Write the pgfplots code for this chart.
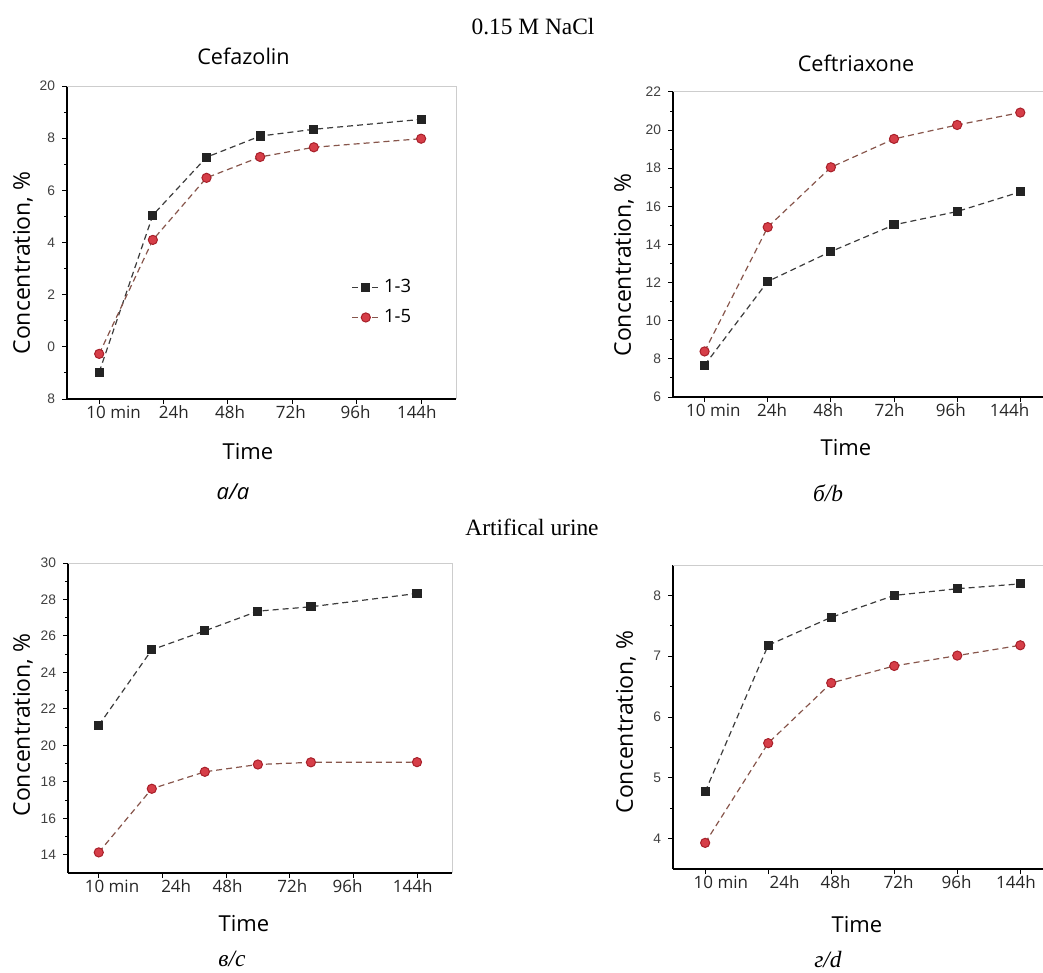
\documentclass[border=0pt]{standalone}
\usepackage{pgfplots}
\pgfplotsset{compat=1.18}
\usepackage{fontspec}
\setmainfont{Liberation Serif}
\newfontfamily\osans{Open Sans}
\newfontfamily\lsans{Liberation Sans}

\definecolor{sqfill}{RGB}{35,35,35}
\definecolor{cifill}{RGB}{214,62,72}
\definecolor{cidraw}{RGB}{168,32,42}
\definecolor{lnblack}{RGB}{60,60,60}
\definecolor{lnred}{RGB}{135,85,75}
\definecolor{framec}{RGB}{205,205,205}

\pgfplotsset{
  panel/.style={
    scale only axis,
    anchor=south west,
    axis lines*=left,
    axis line style={black, line width=0.6pt},
    tick align=outside,
    xtick pos=bottom, ytick pos=left,
    major tick length=2.5pt, minor tick length=1.5pt,
    every tick/.style={black, line width=0.5pt},
    /pgf/number format/assume math mode=true,
    yticklabel style={font=\lsans\fontsize{6.9}{8}\selectfont, text=black!75},
    xticklabels={,,,,,},
    extra x tick style={major tick length=0pt,
      xticklabel style={font=\osans\fontsize{8.5}{10}\selectfont, text=black!85}},
    clip=false,
  },
  s13/.style={lnblack, line width=0.6pt, dash pattern=on 3pt off 2pt,
    mark=square*, mark size=2pt, mark options={solid, fill=sqfill, draw=sqfill}},
  s15/.style={lnred, line width=0.6pt, dash pattern=on 3pt off 2pt,
    mark=*, mark size=2.3pt, mark options={solid, fill=cifill, draw=cidraw, line width=0.5pt}},
}

\begin{document}
\begin{tikzpicture}
\useasboundingbox (0,0) rectangle (521.5pt,-486.5pt);

% ---------- Panel a: Cefazolin ----------
\begin{axis}[panel, at={(33.5pt,-199.5pt)}, width=194.5pt, height=156.5pt,
  xmin=-0.6, xmax=6.65, ymin=-2, ymax=10,
  xtick={0,1.2,2.4,3.6,4.8,6},
  extra x ticks={0.27,1.39,2.44,3.57,4.78,5.92},
  extra x tick labels={10 min,24h,48h,72h,96h,144h},
  ytick={-2,0,2,4,6,8,10}, yticklabels={8,0,2,4,6,8,20},
  minor y tick num=1,
  legend style={draw=none, fill=none, at={(rel axis cs:0.715,0.41)}, anchor=north west,
    font=\osans\fontsize{9.2}{11}\selectfont, row sep=3pt},
  legend cell align=left,
  legend image code/.code={\draw[mark repeat=2,mark phase=2,#1] plot coordinates {(0cm,0cm) (0.24cm,0cm) (0.48cm,0cm)};},
]
\addplot[s13] coordinates {(0,-0.97) (1,5.05) (2,7.27) (3,8.08) (4,8.34) (6,8.72)};
\addlegendentry{1-3}
\addplot[s15] coordinates {(0,-0.27) (1,4.10) (2,6.48) (3,7.28) (4,7.65) (6,7.98)};
\addlegendentry{1-5}
\draw[framec, line width=0.5pt] (rel axis cs:0,1) -- (rel axis cs:1,1) -- (rel axis cs:1,0);
\end{axis}

% ---------- Panel b: Ceftriaxone ----------
\begin{axis}[panel, at={(336.5pt,-198.5pt)}, width=185pt, height=152.5pt,
  xmin=-0.5, xmax=5.36, ymin=6, ymax=22,
  xtick={0,1,2,3,4,5},
  extra x ticks={0.14,1.07,1.96,2.93,3.90,4.83},
  extra x tick labels={10 min,24h,48h,72h,96h,144h},
  ytick={6,8,...,22}, minor y tick num=1,
]
\addplot[s13] coordinates {(0,7.67) (1,12.06) (2,13.63) (3,15.03) (4,15.73) (5,16.76)};
\addplot[s15] coordinates {(0,8.39) (1,14.91) (2,18.05) (3,19.54) (4,20.27) (5,20.92)};
\draw[framec, line width=0.5pt] (rel axis cs:0,1) -- (rel axis cs:1,1);
\end{axis}

% ---------- Panel c ----------
\begin{axis}[panel, at={(34pt,-436.5pt)}, width=192pt, height=155pt,
  xmin=-0.58, xmax=6.66, ymin=13, ymax=30,
  xtick={0,1.2,2.4,3.6,4.8,6},
  extra x ticks={0.25,1.46,2.43,3.65,4.69,5.92},
  extra x tick labels={10 min,24h,48h,72h,96h,144h},
  ytick={14,16,...,30}, minor y tick num=1,
]
\addplot[s13] coordinates {(0,21.10) (1,25.24) (2,26.28) (3,27.36) (4,27.60) (6,28.33)};
\addplot[s15] coordinates {(0,14.13) (1,17.62) (2,18.55) (3,18.95) (4,19.07) (6,19.08)};
\draw[framec, line width=0.5pt] (rel axis cs:0,1) -- (rel axis cs:1,1) -- (rel axis cs:1,0);
\end{axis}

% ---------- Panel d ----------
\begin{axis}[panel, at={(336.5pt,-434.5pt)}, width=185pt, height=152pt,
  xmin=-0.51, xmax=5.36, ymin=3.5, ymax=8.5,
  xtick={0,1,2,3,4,5},
  extra x ticks={0.25,1.26,2.07,3.07,3.99,4.93},
  extra x tick labels={10 min,24h,48h,72h,96h,144h},
  ytick={4,5,6,7,8}, minor y tick num=1,
]
\addplot[s13] coordinates {(0,4.77) (1,7.18) (2,7.64) (3,8.00) (4,8.11) (5,8.19)};
\addplot[s15] coordinates {(0,3.93) (1,5.57) (2,6.56) (3,6.84) (4,7.01) (5,7.18)};
\draw[framec, line width=0.5pt] (rel axis cs:0,1) -- (rel axis cs:1,1);
\end{axis}

% ---------- Texts ----------
\node[font=\fontsize{11.7}{14}\selectfont] at (266.5pt,-13.5pt) {0.15 M NaCl};
\node[font=\fontsize{11.7}{14}\selectfont] at (266pt,-263.5pt) {Artifical urine};
\node[font=\osans\fontsize{10.8}{13}\selectfont] at (121.75pt,-28pt) {Cefazolin};
\node[font=\osans\fontsize{10.8}{13}\selectfont] at (428pt,-31.5pt) {Ceftriaxone};

\node[font=\osans\fontsize{11}{13}\selectfont] at (124pt,-226pt) {Time};
\node[font=\osans\fontsize{11}{13}\selectfont] at (423pt,-224pt) {Time};
\node[font=\osans\fontsize{11}{13}\selectfont] at (122pt,-462pt) {Time};
\node[font=\osans\fontsize{11}{13}\selectfont] at (428.5pt,-462.5pt) {Time};

\node[font=\osans\fontsize{11.5}{13}\selectfont, rotate=90] at (11.5pt,-131.5pt) {Concentration, \%};
\node[font=\osans\fontsize{11.5}{13}\selectfont, rotate=90] at (312pt,-132.5pt) {Concentration, \%};
\node[font=\osans\fontsize{11.5}{13}\selectfont, rotate=90] at (11.5pt,-362.5pt) {Concentration, \%};
\node[font=\osans\fontsize{11.5}{13}\selectfont, rotate=90] at (313pt,-361pt) {Concentration, \%};

\node[font=\osans\itshape\fontsize{11}{13}\selectfont] at (116.5pt,-246pt) {а/a};
\node[font=\itshape\fontsize{11.7}{14}\selectfont] at (414pt,-246.5pt) {б/b};
\node[font=\itshape\fontsize{11.7}{14}\selectfont] at (116pt,-479.5pt) {в/c};
\node[font=\itshape\fontsize{11.7}{14}\selectfont] at (414pt,-479.5pt) {г/d};
\end{tikzpicture}
\end{document}
